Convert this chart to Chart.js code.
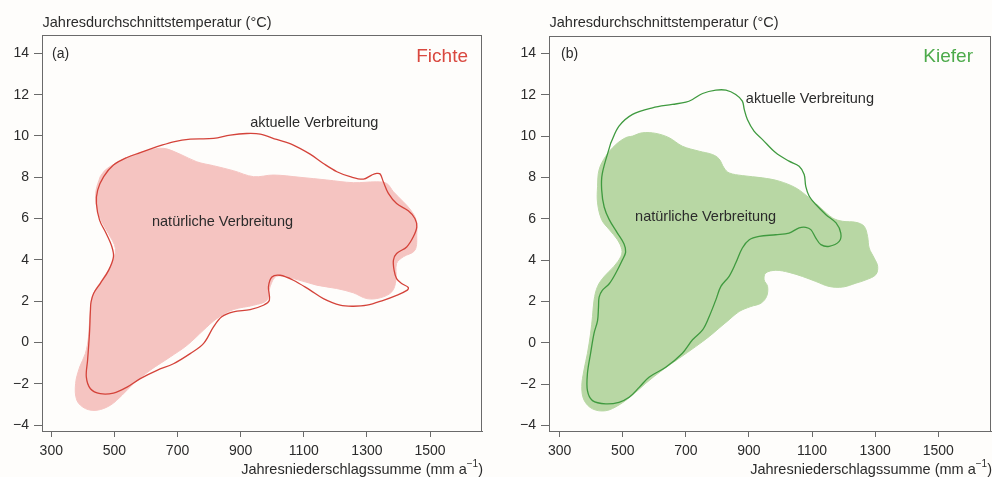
<!DOCTYPE html>
<html>
<head>
<meta charset="utf-8">
<script src="https://cdn.jsdelivr.net/npm/chart.js@4/dist/chart.umd.min.js"></script>
<style>
  html, body { margin: 0; padding: 0; background: #fefdfb; }
  #wrap { position: relative; width: 992px; height: 477px; }
  canvas { position: absolute; top: 0; }
</style>
</head>
<body>
<div id="wrap">
  <canvas id="cA" width="496" height="477" style="left:0px"></canvas>
  <canvas id="cB" width="496" height="477" style="left:496px"></canvas>
</div>
<script>
// ---- tick labels ----
const xTicks = [300, 500, 700, 900, 1100, 1300, 1500];
const yTicks = [-4, -2, 0, 2, 4, 6, 8, 10, 12, 14];

// ---- (a) Fichte: natural distribution (filled) ----
const fichteNatural = [
  [455,8.03],[442,7.38],[442,6.73],[455,6.01],[481,5.28],[503,4.56],[492,3.83],[460,3.02],
  [434,2.38],[423,1.41],[418,0.28],[408,-0.53],[390,-1.18],[377,-1.98],[381,-2.79],[408,-3.19],
  [445,-3.27],[487,-3.03],[524,-2.55],[561,-1.98],[613,-1.34],[677,-0.69],[730,-0.13],[782,0.60],
  [824,1.16],[877,1.60],[941,1.81],[983,2.05],[993,2.70],[1014,3.21],[1067,3.10],[1141,2.78],
  [1204,2.62],[1257,2.41],[1300,2.13],[1342,2.17],[1379,2.46],[1392,3.02],[1394,3.83],[1415,4.15],
  [1452,4.47],[1458,5.28],[1456,5.93],[1439,6.41],[1415,6.82],[1384,7.30],[1363,7.70],[1331,7.78],
  [1257,7.74],[1173,7.87],[1088,8.00],[1004,8.11],[941,8.03],[877,8.32],[814,8.56],[761,8.75],
  [708,9.12],[656,9.40],[603,9.29],[550,9.03],[503,8.67],[471,8.35],[455,8.03]
];
// ---- (a) Fichte: current distribution (outline) ----
const fichteActual = [
  [635,9.48],[687,9.72],[740,9.85],[814,9.88],[867,10.04],[919,10.12],[962,10.09],[1014,9.83],
  [1067,9.56],[1120,9.12],[1162,8.67],[1205,8.27],[1247,8.03],[1289,7.91],[1315,8.11],[1331,8.19],
  [1342,8.16],[1352,7.78],[1368,7.22],[1394,6.73],[1431,6.38],[1452,6.01],[1458,5.60],[1447,5.12],
  [1426,4.63],[1394,4.31],[1384,3.99],[1386,3.51],[1394,3.10],[1410,2.86],[1431,2.67],[1428,2.54],
  [1394,2.29],[1352,2.05],[1300,1.81],[1257,1.76],[1215,1.81],[1162,2.13],[1120,2.54],[1067,3.02],
  [1025,3.26],[999,3.18],[988,2.70],[991,2.05],[972,1.81],[930,1.60],[877,1.49],[840,1.25],
  [814,0.76],[782,-0.05],[740,-0.53],[687,-1.02],[635,-1.34],[582,-1.74],[540,-2.15],[497,-2.44],
  [455,-2.47],[424,-2.23],[411,-1.66],[415,-0.85],[421,0.44],[424,1.57],[426,1.97],[434,2.38],
  [455,2.86],[482,3.51],[497,4.15],[492,4.64],[474,5.28],[453,5.93],[443,6.73],[447,7.38],
  [466,8.03],[497,8.59],[540,8.96],[582,9.19],[635,9.48]
];

// ---- (b) Kiefer: natural distribution (filled) ----
const kieferNatural = [
  [531,10.00],[562,10.16],[605,10.13],[647,9.92],[689,9.51],[742,9.27],[784,9.11],[805,8.90],
  [821,8.46],[837,8.22],[879,8.09],[943,7.98],[996,7.82],[1049,7.49],[1091,7.01],[1128,6.52],
  [1165,6.04],[1197,5.88],[1239,5.83],[1265,5.64],[1276,5.15],[1281,4.59],[1297,4.10],[1308,3.70],
  [1302,3.30],[1271,3.05],[1239,2.89],[1197,2.70],[1154,2.73],[1112,2.97],[1070,3.21],[1027,3.41],
  [985,3.51],[953,3.38],[948,3.05],[959,2.73],[956,2.25],[938,1.92],[906,1.76],[869,1.52],
  [837,1.12],[805,0.71],[774,0.31],[731,-0.18],[679,-0.74],[626,-1.31],[573,-1.95],[531,-2.52],
  [488,-3.00],[446,-3.28],[404,-3.19],[377,-2.76],[370,-2.11],[377,-1.31],[388,-0.50],[398,0.47],
  [404,1.28],[409,2.08],[420,2.73],[441,3.21],[472,3.70],[494,4.18],[497,4.51],[483,4.99],
  [457,5.48],[433,5.96],[420,6.77],[420,7.57],[425,8.38],[446,9.03],[478,9.59],[509,9.92],[531,10.00]
];
// ---- (b) Kiefer: current distribution (outline) ----
const kieferActual = [
  [462,9.67],[488,10.48],[531,11.05],[594,11.37],[657,11.53],[700,11.64],[721,11.77],[753,12.06],
  [795,12.22],[827,12.22],[858,12.01],[879,11.69],[885,11.29],[895,10.80],[916,10.24],[943,9.83],
  [985,9.19],[1027,8.79],[1059,8.54],[1075,8.14],[1080,7.57],[1091,7.09],[1112,6.69],[1144,6.20],
  [1176,5.80],[1191,5.31],[1186,4.91],[1154,4.67],[1128,4.75],[1112,5.07],[1096,5.48],[1080,5.59],
  [1059,5.56],[1027,5.31],[985,5.23],[932,5.15],[901,4.99],[879,4.59],[858,3.86],[837,3.22],
  [811,2.73],[795,2.08],[774,1.28],[753,0.63],[721,0.15],[689,-0.50],[636,-1.18],[583,-1.66],
  [552,-2.15],[520,-2.63],[488,-2.87],[446,-2.95],[404,-2.79],[388,-2.31],[388,-1.47],[398,-0.50],
  [409,0.47],[420,1.08],[423,1.73],[425,2.21],[435,2.54],[457,2.86],[478,3.38],[499,4.02],
  [509,4.39],[504,4.78],[483,5.31],[457,5.96],[441,6.57],[433,7.41],[435,8.19],[462,9.67]
];

const FONT = '"Liberation Sans", Arial, Helvetica, sans-serif';
const TXT = '#2b2b2b';
const AXC = '#6a6a6a';

function pts(arr) { return arr.map(p => ({x: p[0], y: p[1]})); }
function fmt(v) { return v < 0 ? '\u2212' + Math.abs(v) : String(v); }

function makePanel(id, cfg) {
  const decor = {
    id: 'decor',
    afterDraw(chart) {
      const ctx = chart.ctx, a = chart.chartArea;
      const xs = chart.scales.x, ys = chart.scales.y;
      ctx.save();
      ctx.strokeStyle = AXC; ctx.lineWidth = 1;
      ctx.strokeRect(Math.round(a.left) + 0.5, Math.round(a.top) + 0.5,
                     Math.round(a.right - a.left) - 1, Math.round(a.bottom - a.top));
      ctx.fillStyle = TXT;
      ctx.textBaseline = 'middle';
      // y-axis title
      ctx.font = '14.5px ' + FONT; ctx.textAlign = 'left';
      ctx.fillText('Jahresdurchschnittstemperatur (\u00B0C)', a.left + 0.5, 23);
      // panel letter
      ctx.font = '14px ' + FONT;
      ctx.fillText(cfg.letter, a.left + cfg.letterDx, 54);
      // species name
      ctx.font = '19px ' + FONT; ctx.fillStyle = cfg.nameColor; ctx.textAlign = 'right';
      ctx.fillText(cfg.name, a.right - cfg.nameDx, 57);
      // region labels
      ctx.fillStyle = TXT; ctx.textAlign = 'left'; ctx.font = '14.5px ' + FONT;
      ctx.fillText('aktuelle Verbreitung', xs.getPixelForValue(cfg.akt[0]), ys.getPixelForValue(cfg.akt[1]));
      ctx.fillText('nat\u00FCrliche Verbreitung', xs.getPixelForValue(cfg.nat[0]), ys.getPixelForValue(cfg.nat[1]));
      // x-axis title with superscript
      const main = 'Jahresniederschlagssumme (mm a', sup = '\u22121', end = ')';
      ctx.font = '14.5px ' + FONT;
      const wM = ctx.measureText(main).width, wE = ctx.measureText(end).width;
      ctx.font = '10px ' + FONT;
      const wS = ctx.measureText(sup).width;
      let x0 = a.right + 1 - (wM + wS + wE);
      const yT = 470;
      ctx.font = '14.5px ' + FONT; ctx.fillText(main, x0, yT);
      ctx.font = '10px ' + FONT; ctx.fillText(sup, x0 + wM, yT - 6);
      ctx.font = '14.5px ' + FONT; ctx.fillText(end, x0 + wM + wS, yT);
      ctx.restore();
    }
  };
  return new Chart(document.getElementById(id), {
    type: 'scatter',
    data: {
      datasets: [
        { data: pts(cfg.actual), showLine: true, fill: false, borderColor: cfg.lineColor,
          borderWidth: 1.3, pointRadius: 0, tension: 0.35, order: 1 },
        { data: pts(cfg.natural), showLine: true, fill: 'shape', backgroundColor: cfg.fillColor,
          borderColor: cfg.fillColor, borderWidth: 1, pointRadius: 0, tension: 0.35, order: 2 }
      ]
    },
    options: {
      responsive: false, animation: false, devicePixelRatio: 1,
      layout: { padding: { left: 0, right: cfg.padRight, top: cfg.padTop, bottom: 0 } },
      plugins: { legend: { display: false }, tooltip: { enabled: false } },
      events: [],
      scales: {
        x: {
          type: 'linear', min: cfg.xMin, max: cfg.xMax,
          afterBuildTicks: s => { s.ticks = xTicks.map(v => ({value: v})); },
          afterFit: s => { s.height = cfg.xAxisH; },
          grid: { drawOnChartArea: false, drawTicks: true, tickLength: 6, color: AXC },
          border: { display: true, color: AXC },
          ticks: { color: TXT, font: { family: FONT, size: 14 }, padding: 6, maxRotation: 0,
                   callback: v => fmt(v) }
        },
        y: {
          type: 'linear', min: cfg.yMin, max: cfg.yMax,
          afterBuildTicks: s => { s.ticks = yTicks.map(v => ({value: v})); },
          afterFit: s => { s.width = cfg.yAxisW; },
          grid: { drawOnChartArea: false, drawTicks: true, tickLength: 8, color: AXC },
          border: { display: true, color: AXC },
          ticks: { color: TXT, font: { family: FONT, size: 14 }, padding: 5,
                   callback: v => fmt(v) }
        }
      }
    },
    plugins: [decor]
  });
}

makePanel('cA', {
  natural: fichteNatural, actual: fichteActual,
  fillColor: '#f5c4c1', lineColor: '#d4433a', nameColor: '#d9483f',
  letter: '(a)', letterDx: 10, name: 'Fichte', nameDx: 14,
  akt: [930, 10.64], nat: [619, 5.82],
  xMin: 270.6, xMax: 1664.6, yMin: -4.276, yMax: 14.886,
  yAxisW: 42, xAxisH: 46, padRight: 14, padTop: 35
});
makePanel('cB', {
  natural: kieferNatural, actual: kieferActual,
  fillColor: '#b8d7a4', lineColor: '#3f9a3f', nameColor: '#4caa4a',
  letter: '(b)', letterDx: 12, name: 'Kiefer', nameDx: 18,
  akt: [890, 11.78], nat: [539, 6.09],
  xMin: 266.1, xMax: 1667.2, yMin: -4.26, yMax: 14.84,
  yAxisW: 53, xAxisH: 46, padRight: 1, padTop: 36
});
</script>
</body>
</html>
